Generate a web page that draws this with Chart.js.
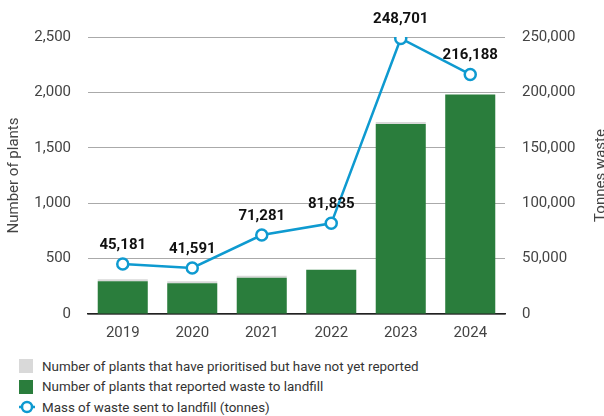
<!DOCTYPE html>
<html>
<head>
<meta charset="utf-8">
<script src="https://cdn.jsdelivr.net/npm/chart.js@4"></script>
<style>
    html, body { margin: 0; padding: 0; background: #fff; overflow: hidden; }
    body { width: 604px; height: 416px; position: relative; font-family: Roboto, sans-serif; }
    #wrap { position: absolute; left: 0; top: 0; width: 620px; height: 344px; }
    #legend { position: absolute; left: 19px; top: 356px; color: #333; font-size: 13.4px; }
    .item { display: flex; align-items: center; height: 20.5px; }
    .sw { width: 14px; height: 14px; margin-right: 9px; }
    .ico { width: 16px; height: 14px; margin-right: 7px; }
</style>
</head>
<body>
<div id="wrap"><canvas id="chart"></canvas></div>
<div id="legend">
    <div class="item"><div class="sw" style="background:#d9d9d9"></div>Number of plants that have prioritised but have not yet reported</div>
    <div class="item"><div class="sw" style="background:#2a7d3c"></div>Number of plants that reported waste to landfill</div>
    <div class="item"><svg class="ico" viewBox="0 0 16 14"><line x1="0" y1="7" x2="16" y2="7" stroke="#0e9ad0" stroke-width="2.5"/><circle cx="8" cy="7" r="5" fill="#fff" stroke="#0e9ad0" stroke-width="2.5"/></svg>Mass of waste sent to landfill (tonnes)</div>
</div>
<script>
// Data
const years = ['2019', '2020', '2021', '2022', '2023', '2024'];
const plantsReported = [295, 277, 328, 400, 1715, 1980];
const plantsNotYetReported = [18, 18, 18, 0, 18, 0];
const wasteTonnes = [45181, 41591, 71281, 81835, 248701, 216188];

const leftTicks = [0, 500, 1000, 1500, 2000, 2500];
const rightTicks = [0, 50000, 100000, 150000, 200000, 250000];

const GREEN = '#2a7d3c';
const GREY = '#d9d9d9';
const BLUE = '#0e9ad0';
const TICK_COLOR = '#444';

const fmt = v => v.toLocaleString('en-US');

// Value labels above the line points
const pointLabels = {
    id: 'pointLabels',
    afterDatasetsDraw(chart) {
        const ctx = chart.ctx;
        const meta = chart.getDatasetMeta(2);
        ctx.save();
        ctx.font = 'bold 15px Roboto';
        ctx.fillStyle = '#111';
        ctx.textAlign = 'center';
        ctx.textBaseline = 'middle';
        meta.data.forEach((pt, i) => {
            ctx.fillText(fmt(wasteTonnes[i]), pt.x, pt.y - 19);
        });
        ctx.restore();
    }
};

// Axis titles, both reading bottom to top
const axisTitles = {
    id: 'axisTitles',
    afterDraw(chart) {
        const ctx = chart.ctx;
        const a = chart.chartArea;
        const cy = (a.top + a.bottom) / 2;
        ctx.save();
        ctx.font = '15px Roboto';
        ctx.fillStyle = TICK_COLOR;
        ctx.textAlign = 'center';
        ctx.textBaseline = 'middle';
        [[14, 'Number of plants'], [601, 'Tonnes waste']].forEach(([x, txt]) => {
            ctx.save();
            ctx.translate(x, cy);
            ctx.rotate(-Math.PI / 2);
            ctx.fillText(txt, 0, 0);
            ctx.restore();
        });
        ctx.restore();
    }
};

new Chart(document.getElementById('chart'), {
    data: {
        labels: years,
        datasets: [{
            type: 'bar',
            label: 'Number of plants that reported waste to landfill',
            data: plantsReported,
            backgroundColor: GREEN,
            yAxisID: 'y',
            stack: 'plants',
            order: 2
        }, {
            type: 'bar',
            label: 'Number of plants that have prioritised but have not yet reported',
            data: plantsNotYetReported,
            backgroundColor: GREY,
            yAxisID: 'y',
            stack: 'plants',
            order: 2
        }, {
            type: 'line',
            label: 'Mass of waste sent to landfill (tonnes)',
            data: wasteTonnes,
            yAxisID: 'y1',
            borderColor: BLUE,
            borderWidth: 2.5,
            pointRadius: 5.5,
            pointBorderWidth: 2.5,
            pointBackgroundColor: '#fff',
            pointBorderColor: BLUE,
            tension: 0,
            order: 0
        }]
    },
    options: {
        responsive: true,
        maintainAspectRatio: false,
        animation: false,
        layout: {
            padding: { top: 37, left: 0, right: 0, bottom: 0 }
        },
        datasets: {
            bar: {
                categoryPercentage: 0.8,
                barPercentage: 0.9
            }
        },
        scales: {
            x: {
                stacked: true,
                grid: { display: false, drawTicks: false },
                border: { display: true, color: '#222', width: 1.5 },
                ticks: {
                    color: TICK_COLOR,
                    padding: 10,
                    font: { family: 'Roboto', size: 15 }
                },
                afterFit(scale) { scale.height = 30; }
            },
            y: {
                stacked: true,
                position: 'left',
                min: 0,
                max: 2500,
                afterBuildTicks(scale) { scale.ticks = leftTicks.map(v => ({ value: v })); },
                grid: { color: '#aaa', lineWidth: 1, drawTicks: false },
                border: { display: false },
                ticks: {
                    color: TICK_COLOR,
                    padding: 17,
                    font: { family: 'Roboto', size: 15 },
                    callback: v => fmt(v)
                },
                afterFit(scale) { scale.width = 88; }
            },
            y1: {
                position: 'right',
                min: 0,
                max: 250000,
                afterBuildTicks(scale) { scale.ticks = rightTicks.map(v => ({ value: v })); },
                grid: { display: false, drawTicks: false },
                border: { display: false },
                ticks: {
                    color: TICK_COLOR,
                    padding: 17,
                    font: { family: 'Roboto', size: 15 },
                    callback: v => fmt(v)
                },
                afterFit(scale) { scale.width = 115; }
            }
        },
        plugins: {
            legend: { display: false },
            tooltip: { enabled: false }
        }
    },
    plugins: [pointLabels, axisTitles]
});
</script>
</body>
</html>
